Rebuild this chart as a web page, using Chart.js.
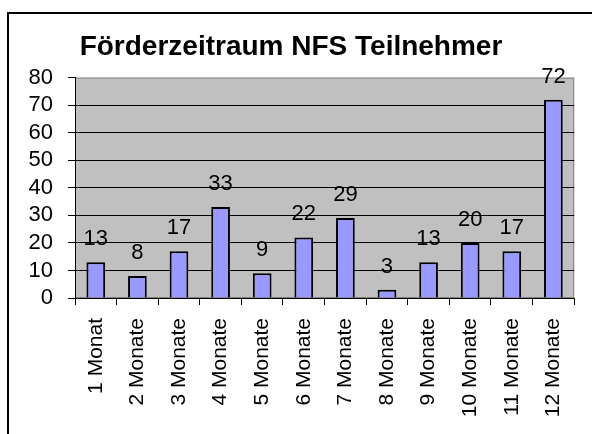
<!DOCTYPE html>
<html>
<head>
<meta charset="utf-8">
<script src="https://cdn.jsdelivr.net/npm/chart.js@4"></script>
<style>
body{margin:0;background:#fff}
#wrap{width:592px;height:434px}
</style>
</head>
<body>
<div id="wrap"><canvas id="myChart" width="592" height="434"></canvas></div>
<script>
// Förderzeitraum NFS Teilnehmer
const monthLabels = ['1 Monat','2 Monate','3 Monate','4 Monate','5 Monate','6 Monate','7 Monate','8 Monate','9 Monate','10 Monate','11 Monate','12 Monate']
const participants = [13, 8, 17, 33, 9, 22, 29, 3, 13, 20, 17, 72]
const chartTitle = 'Förderzeitraum NFS Teilnehmer'

const fontName = '"Liberation Sans", Arial, sans-serif'

// gray plot background + frame around the sheet
const plotBg = {
	id: 'plotBg',
	beforeDraw(chart){
		const ctx = chart.ctx, a = chart.chartArea
		ctx.save()
		ctx.fillStyle = '#c0c0c0'
		ctx.fillRect(a.left, a.top, a.right - a.left, a.bottom - a.top)
		ctx.strokeStyle = '#808080'
		ctx.lineWidth = 1
		ctx.strokeRect(a.left + 0.5, a.top + 0.5, a.right - a.left - 1, a.bottom - a.top - 1)
		ctx.strokeStyle = '#000'
		ctx.lineWidth = 2
		ctx.beginPath()
		ctx.moveTo(8, chart.height)
		ctx.lineTo(8, 13)
		ctx.lineTo(chart.width, 13)
		ctx.stroke()
		ctx.restore()
	}
}

// value above every bar
const barValues = {
	id: 'barValues',
	afterDatasetsDraw(chart){
		const ctx = chart.ctx
		const meta = chart.getDatasetMeta(0)
		ctx.save()
		ctx.font = '22px ' + fontName
		ctx.fillStyle = '#000'
		ctx.textAlign = 'center'
		ctx.textBaseline = 'alphabetic'
		meta.data.forEach((bar, i) => {
			ctx.fillText(String(participants[i]), bar.x, bar.y - 17)
		})
		ctx.restore()
	}
}

new Chart(document.getElementById('myChart'), {
	type: 'bar',
	data: {
		labels: monthLabels,
		datasets: [{
			data: participants,
			backgroundColor: '#9999ff',
			borderColor: '#000',
			borderWidth: 2,
			categoryPercentage: 1,
			barPercentage: 0.45
		}]
	},
	options: {
		responsive: false,
		animation: false,
		layout: { padding: { left: 0, right: 10, top: 0, bottom: 0 } },
		scales: {
			x: {
				afterFit: s => { s.height = 136 },
				border: { color: '#000', width: 1 },
				grid: { drawOnChartArea: false, offset: true, tickLength: 7, tickColor: '#000' },
				ticks: {
					minRotation: 90, maxRotation: 90, autoSkip: false, padding: 13,
					color: '#000', font: { family: fontName, size: 21 }
				}
			},
			y: {
				min: 0, max: 80,
				afterFit: s => { s.width = 75 },
				border: { color: '#000', width: 1 },
				grid: {
					color: c => (c.tick.value > 0 && c.tick.value < 80) ? '#000' : 'rgba(0,0,0,0)',
					tickColor: '#000', tickLength: 7
				},
				ticks: { stepSize: 10, autoSkip: false, padding: 15, color: '#000', font: { family: fontName, size: 22 } }
			}
		},
		plugins: {
			legend: { display: false },
			tooltip: { enabled: false },
			title: {
				display: true,
				text: chartTitle,
				color: '#000',
				font: { family: fontName, size: 28, weight: 'bold' },
				padding: { top: 30, bottom: 14 }
			}
		}
	},
	plugins: [plotBg, barValues]
})
</script>
</body>
</html>
